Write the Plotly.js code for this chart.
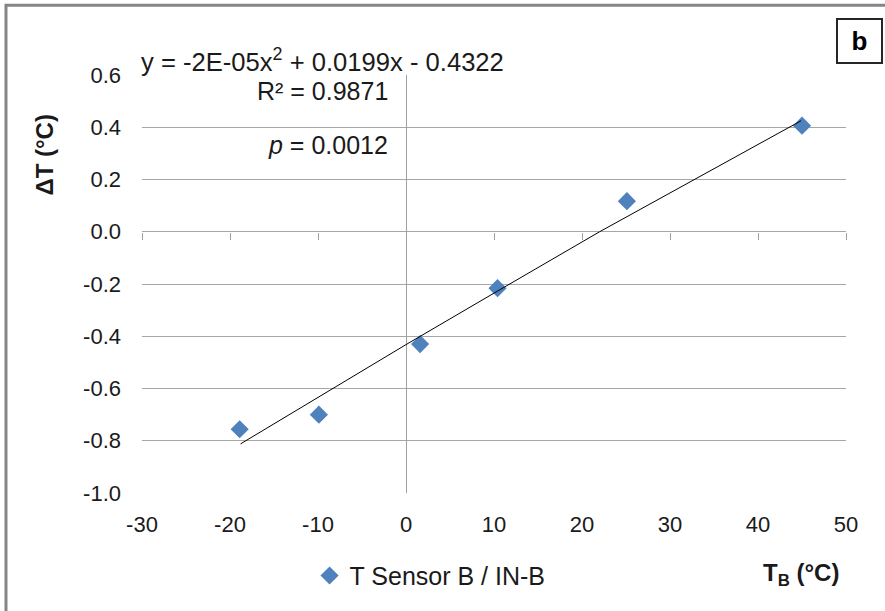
<!DOCTYPE html>
<html>
<head>
<meta charset="utf-8">
<script src="https://cdn.plot.ly/plotly-3.0.1.min.js"></script>
<style>html,body{margin:0;padding:0;background:#fff;}#chart{width:885px;height:611px;}</style>
</head>
<body>
<div id="chart"></div>
<script>
// Data
const tempB = [-18.9, -9.9, 1.6, 10.4, 25.1, 45.0];
const deltaT = [-0.756, -0.70, -0.43, -0.216, 0.117, 0.406];
// Trend line points
const trendX = [-18.8, 0, 10, 22, 44.9];
const trendY = [-0.812, -0.432, -0.235, 0.0, 0.425];
const seriesName = 'T Sensor B / IN-B';
const xTickVals = [-30, -20, -10, 0, 10, 20, 30, 40, 50];
const xTickText = ['-30', '-20', '-10', '0', '10', '20', '30', '40', '50'];
const yTickVals = [-1.0, -0.8, -0.6, -0.4, -0.2, 0.0, 0.2, 0.4, 0.6];
const yTickText = ['-1.0', '-0.8', '-0.6', '-0.4', '-0.2', '0.0', '0.2', '0.4', '0.6'];
const equationText = 'y = -2E-05x<sup>2</sup> + 0.0199x - 0.4322';
const r2Text = 'R² = 0.9871';
const pText = '<i>p</i> = 0.0012';

const FONT = '"Liberation Sans", Arial, sans-serif';
const TXT = '#1a1a1a';

const traces = [
  {
    x: trendX, y: trendY, xaxis: 'x2', yaxis: 'y',
    mode: 'lines', line: {color: '#000', width: 1},
    showlegend: false, hoverinfo: 'skip'
  },
  {
    x: tempB, y: deltaT, mode: 'markers', name: seriesName,
    marker: {symbol: 'diamond', size: 14, color: '#4F81BD'}
  }
];

const layout = {
  width: 885, height: 611,
  margin: {l: 142, r: 39, t: 75, b: 116},
  paper_bgcolor: '#fff', plot_bgcolor: '#fff',
  font: {family: FONT, color: TXT, size: 22},
  showlegend: true,
  legend: {
    orientation: 'h', x: 0.238, y: -0.198, xanchor: 'left', yanchor: 'middle',
    font: {family: FONT, size: 25, color: TXT}, bgcolor: 'rgba(0,0,0,0)'
  },
  xaxis: {
    range: [-30, 50], tickvals: xTickVals, ticktext: xTickText,
    showgrid: false, zeroline: true, zerolinecolor: '#a0a0a0', zerolinewidth: 1,
    showline: false, ticks: '', ticklabelstandoff: 16,
    tickfont: {family: FONT, size: 22, color: TXT}, fixedrange: true
  },
  xaxis2: {
    range: [-30, 50], tickvals: xTickVals, overlaying: 'x', anchor: 'free',
    position: 0.625, side: 'bottom', showgrid: false, zeroline: false,
    showline: false, ticks: 'outside', ticklen: 7, tickcolor: '#a0a0a0',
    tickwidth: 1, showticklabels: false, fixedrange: true
  },
  yaxis: {
    range: [-1.0, 0.6], tickvals: yTickVals, ticktext: yTickText,
    showgrid: true, gridcolor: '#a6a6a6', gridwidth: 1,
    zeroline: false, showline: false, ticks: '', ticklabelstandoff: 20,
    tickfont: {family: FONT, size: 22, color: TXT}, fixedrange: true
  },
  shapes: [
    {type: 'rect', xref: 'paper', yref: 'paper', x0: -0.1932, x1: 1.2, y0: -0.4, y1: 1.1667,
     line: {color: '#858585', width: 3}, fillcolor: 'rgba(0,0,0,0)', layer: 'below'}
  ],
  annotations: [
    {text: equationText, xref: 'paper', yref: 'paper', x: -0.004, y: 1.0357,
     xanchor: 'left', yanchor: 'middle', showarrow: false, font: {family: FONT, size: 25.6, color: TXT}},
    {text: r2Text, xref: 'paper', yref: 'paper', x: 0.3523, y: 0.962,
     xanchor: 'right', yanchor: 'middle', showarrow: false, font: {family: FONT, size: 25, color: TXT}},
    {text: pText, xref: 'paper', yref: 'paper', x: 0.3523, y: 0.8333,
     xanchor: 'right', yanchor: 'middle', showarrow: false, font: {family: FONT, size: 25, color: TXT}},
    {text: '<b>ΔT (°C)</b>', xref: 'paper', yref: 'paper', x: -0.139, y: 0.81,
     xanchor: 'center', yanchor: 'middle', textangle: -90, showarrow: false,
     font: {family: FONT, size: 24, color: TXT}},
    {text: '<b>T<sub>B</sub> (°C)</b>', xref: 'paper', yref: 'paper', x: 0.936, y: -0.195,
     xanchor: 'center', yanchor: 'middle', showarrow: false, font: {family: FONT, size: 24, color: TXT}},
    {text: '<b>b</b>', xref: 'paper', yref: 'paper', x: 1.0192, y: 1.081,
     xanchor: 'center', yanchor: 'middle', showarrow: false, width: 43, height: 42,
     bordercolor: '#262626', borderwidth: 2, borderpad: 0, bgcolor: '#fff',
     font: {family: FONT, size: 26, color: '#000'}}
  ]
};

Plotly.newPlot('chart', traces, layout, {displayModeBar: false, staticPlot: true});
</script>
</body>
</html>
